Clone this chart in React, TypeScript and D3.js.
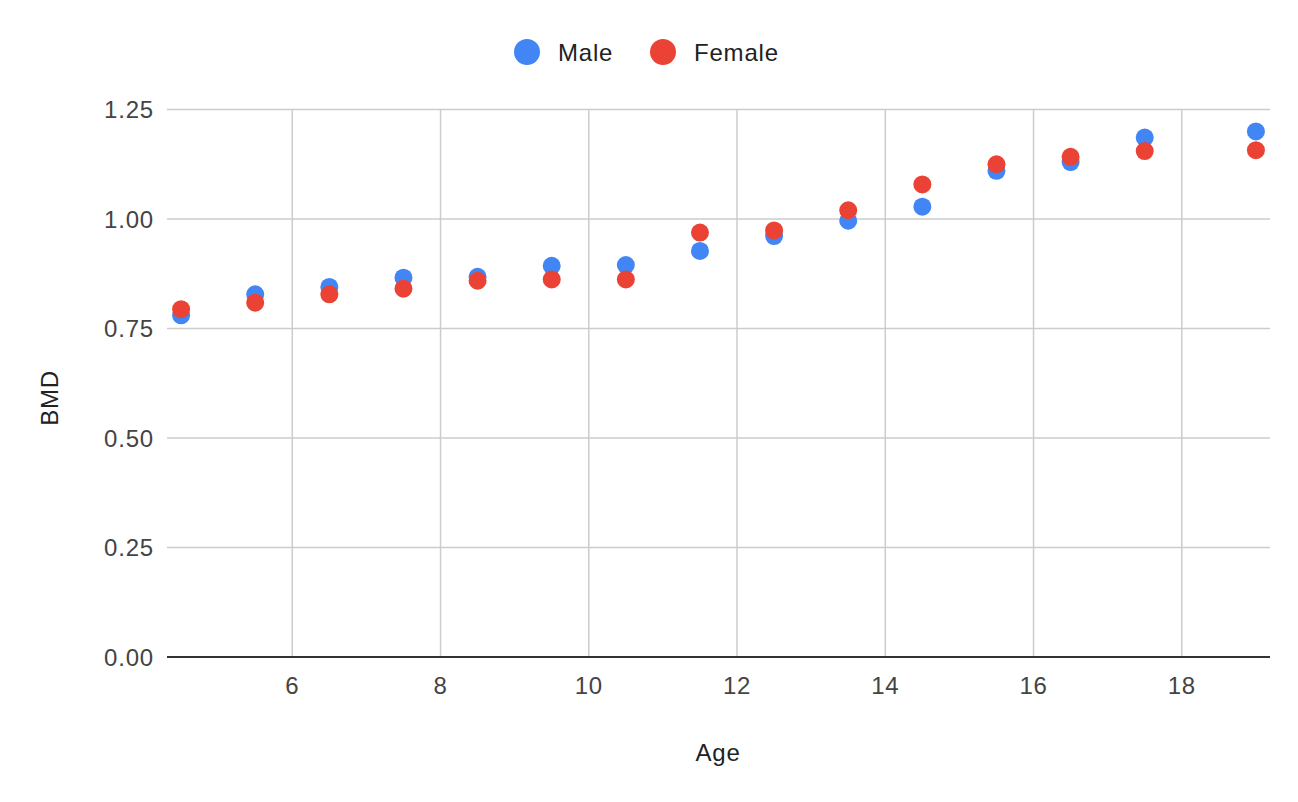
import React from "react";
import * as d3 from "d3";

const ages = [4.5, 5.5, 6.5, 7.5, 8.5, 9.5, 10.5, 11.5, 12.5, 13.5, 14.5, 15.5, 16.5, 17.5, 19];
const maleBMD = [0.780, 0.828, 0.845, 0.866, 0.868, 0.893, 0.895, 0.927, 0.961, 0.996, 1.028, 1.110, 1.130, 1.186, 1.200];
const femaleBMD = [0.794, 0.809, 0.828, 0.841, 0.859, 0.862, 0.862, 0.969, 0.974, 1.020, 1.079, 1.125, 1.142, 1.155, 1.157];
const xTicks = [6, 8, 10, 12, 14, 16, 18];
const yTicks = [0, 0.25, 0.5, 0.75, 1.0, 1.25];
const seriesNames = ["Male", "Female"];
const seriesColors = ["#4285F4", "#EA4335"];

const W = 1298;
const H = 802;
const FONT = "'Liberation Sans', Arial, sans-serif";

export default function App() {
  const x = d3.scaleLinear().domain([4.31, 19.19]).range([167, 1270]);
  const y = d3.scaleLinear().domain([0, 1.25]).range([657, 109.5]);
  const series = [maleBMD, femaleBMD];
  const [x0, x1] = x.range();
  const [y0, y1] = y.range();

  return (
    <svg
      width={W}
      height={H}
      style={{ position: "absolute", left: 0, top: 0, background: "#fff" }}
      fontFamily={FONT}
      letterSpacing={0.8}
    >
      <rect x={0} y={0} width={W} height={H} fill="#fff" />
      {yTicks.filter((t) => t !== 0).map((t) => (
        <line key={"gy" + t} x1={x0} x2={x1} y1={y(t)} y2={y(t)} stroke="#cccccc" strokeWidth={1.5} />
      ))}
      {xTicks.map((t) => (
        <line key={"gx" + t} x1={x(t)} x2={x(t)} y1={y0} y2={y1} stroke="#cccccc" strokeWidth={1.5} />
      ))}
      <line x1={x0} x2={x1} y1={y(0)} y2={y(0)} stroke="#333333" strokeWidth={1.8} />
      {yTicks.map((t) => (
        <text key={"yl" + t} x={154} y={y(t)} dy="0.36em" textAnchor="end" fontSize={24} fill="#444">
          {d3.format(".2f")(t)}
        </text>
      ))}
      {xTicks.map((t) => (
        <text key={"xl" + t} x={x(t)} y={694} textAnchor="middle" fontSize={24} fill="#444">
          {t}
        </text>
      ))}
      <text x={718} y={761} textAnchor="middle" fontSize={24} fill="#222">Age</text>
      <text
        transform="translate(57.5,398) rotate(-90)"
        textAnchor="middle"
        fontSize={24}
        fill="#222"
      >
        BMD
      </text>
      {series.map((vals, si) => (
        <g key={"s" + si}>
          {vals.map((v, i) => (
            <circle key={i} cx={x(ages[i])} cy={y(v)} r={9} fill={seriesColors[si]} />
          ))}
        </g>
      ))}
      <g>
        <circle cx={527} cy={52} r={13} fill={seriesColors[0]} />
        <text x={558} y={61} fontSize={24} fill="#222">{seriesNames[0]}</text>
        <circle cx={663} cy={52} r={13} fill={seriesColors[1]} />
        <text x={694} y={61} fontSize={24} fill="#222">{seriesNames[1]}</text>
      </g>
    </svg>
  );
}
